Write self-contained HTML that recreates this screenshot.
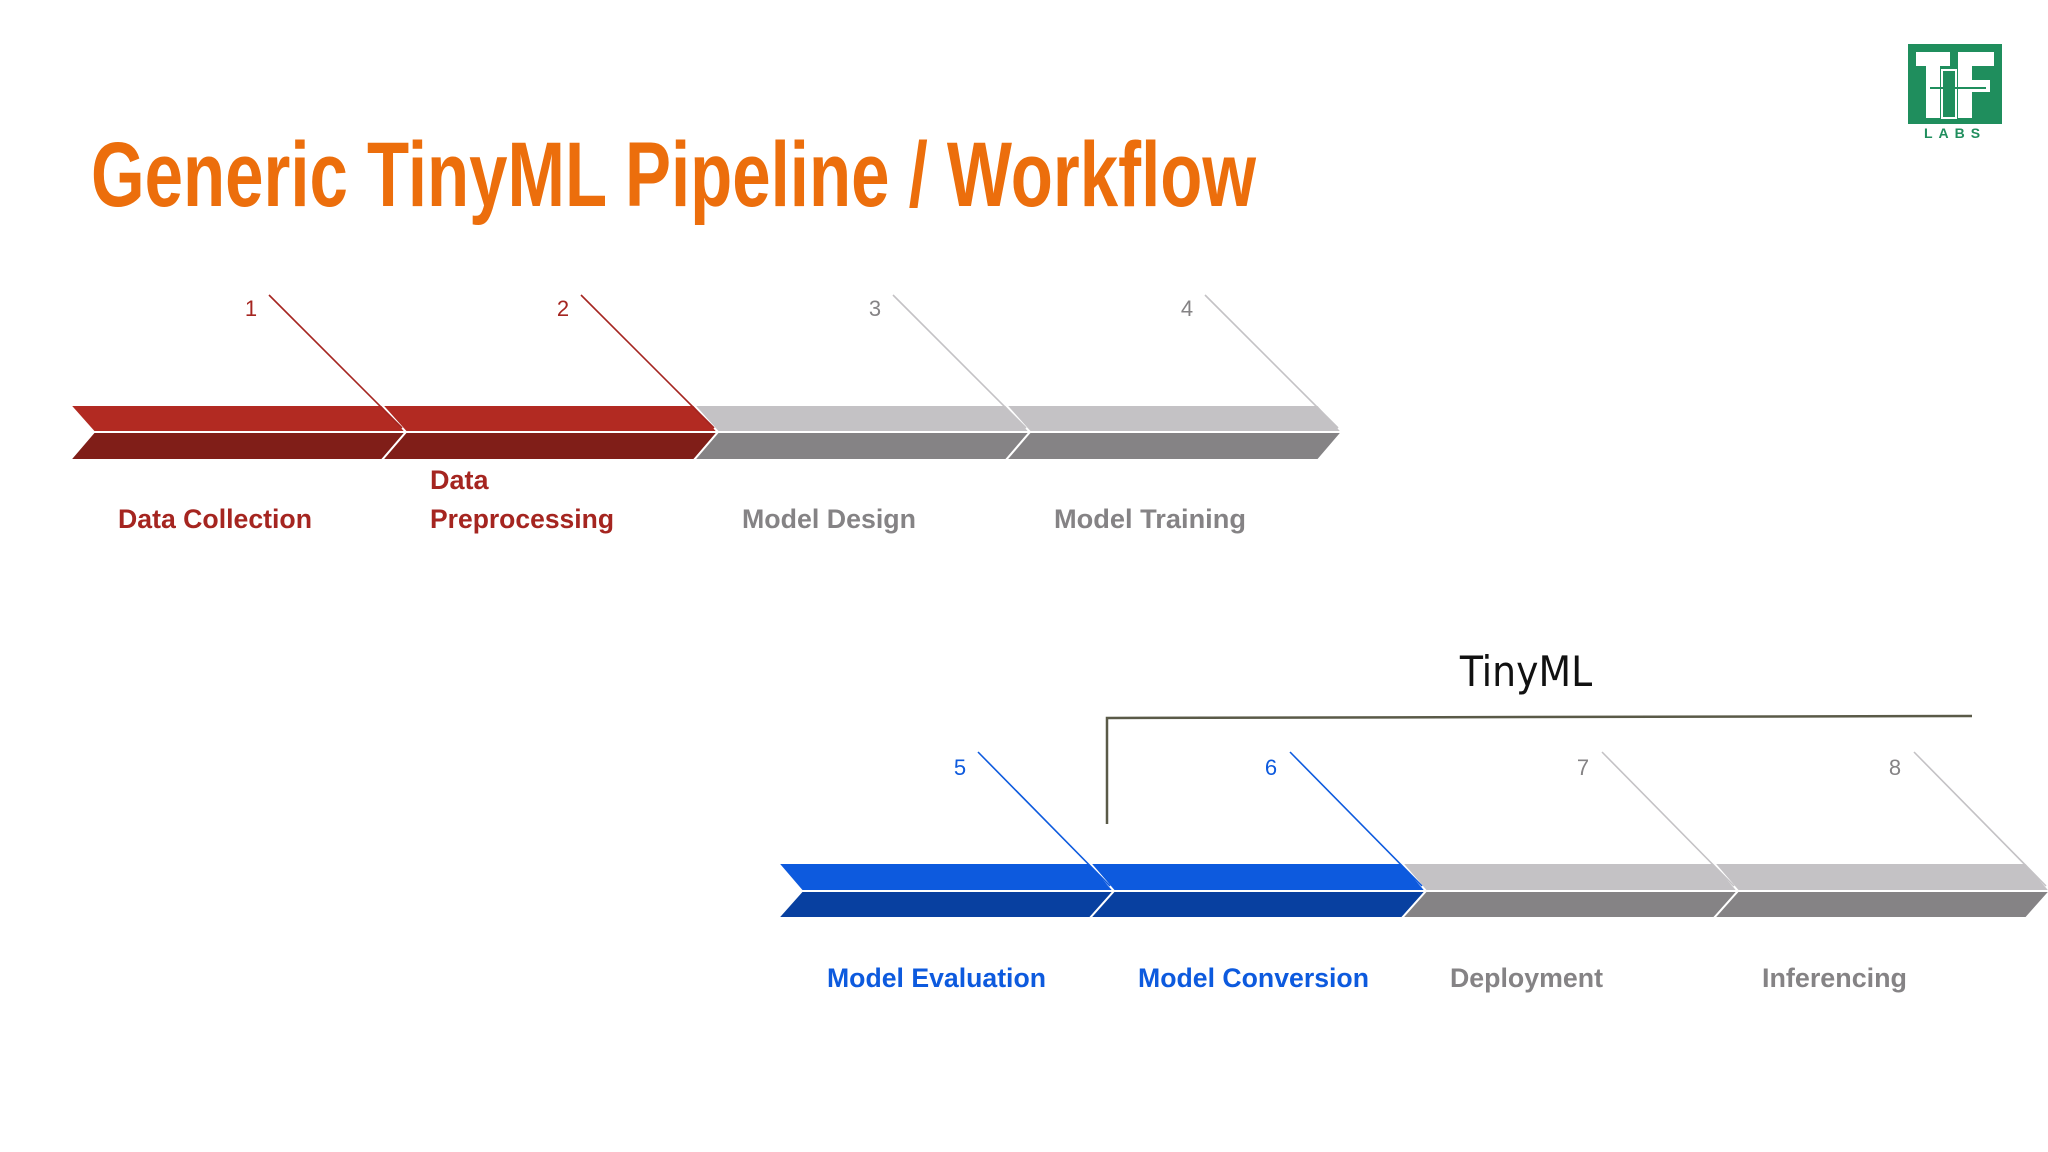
<!DOCTYPE html>
<html><head><meta charset="utf-8"><style>
html,body{margin:0;padding:0;background:#fff;width:2048px;height:1152px;overflow:hidden}
svg{display:block}
text{font-family:"Liberation Sans",sans-serif}
</style></head><body>
<svg width="2048" height="1152" viewBox="0 0 2048 1152" xmlns="http://www.w3.org/2000/svg">
<text x="91" y="206" font-weight="bold" font-size="92" fill="#ec6e0c" textLength="1165" lengthAdjust="spacingAndGlyphs" style="font-family:'Liberation Sans Narrow','Liberation Sans',sans-serif">Generic TinyML Pipeline / Workflow</text>

<!-- logo -->
<rect x="1908" y="44" width="94" height="80" fill="#1f8e5d"/>
<rect x="1916" y="52" width="34" height="14" fill="#fff"/>
<rect x="1926" y="52" width="14" height="66" fill="#fff"/>
<rect x="1958" y="52" width="36" height="14" fill="#fff"/>
<rect x="1958" y="52" width="14" height="66" fill="#fff"/>
<rect x="1958" y="80" width="32" height="12" fill="#fff"/>
<rect x="1942" y="70" width="14" height="48" fill="none" stroke="#fff" stroke-width="2"/>
<line x1="1930" y1="88" x2="1986" y2="88" stroke="#1f8e5d" stroke-width="2"/>
<text x="1955" y="138" text-anchor="middle" font-size="14" font-weight="bold" fill="#1f8e5d" letter-spacing="6">LABS</text>

<!-- top row -->
<g stroke="#fff" stroke-width="2">
<polygon points="70,405 382,405 406,432 94,432" fill="#b22a22"/>
<polygon points="94,432 406,432 382,460 70,460" fill="#801e18"/>
<polygon points="382,405 694,405 718,432 406,432" fill="#b22a22"/>
<polygon points="406,432 718,432 694,460 382,460" fill="#801e18"/>
<polygon points="694,405 1006,405 1030,432 718,432" fill="#c4c2c5"/>
<polygon points="718,432 1030,432 1006,460 694,460" fill="#858385"/>
<polygon points="1006,405 1318,405 1342,432 1030,432" fill="#c4c2c5"/>
<polygon points="1030,432 1342,432 1318,460 1006,460" fill="#858385"/>
</g>
<g stroke-width="1.6">
<line x1="269" y1="295" x2="402" y2="428" stroke="#a52520"/>
<line x1="581" y1="295" x2="714" y2="428" stroke="#a52520"/>
<line x1="893" y1="295" x2="1026" y2="428" stroke="#c4c2c5"/>
<line x1="1205" y1="295" x2="1338" y2="428" stroke="#c4c2c5"/>
</g>
<g font-size="22" text-anchor="middle">
<text x="251" y="316" fill="#a52520">1</text>
<text x="563" y="316" fill="#a52520">2</text>
<text x="875" y="316" fill="#858385">3</text>
<text x="1187" y="316" fill="#858385">4</text>
</g>
<g font-size="27" font-weight="bold">
<text x="118" y="528" fill="#a52520" textLength="194" lengthAdjust="spacingAndGlyphs">Data Collection</text>
<text x="430" y="489" fill="#a52520">Data</text>
<text x="430" y="528" fill="#a52520" textLength="184" lengthAdjust="spacingAndGlyphs">Preprocessing</text>
<text x="742" y="528" fill="#858385" textLength="174" lengthAdjust="spacingAndGlyphs">Model Design</text>
<text x="1054" y="528" fill="#858385" textLength="192" lengthAdjust="spacingAndGlyphs">Model Training</text>
</g>

<!-- bracket -->
<text x="1526" y="686" text-anchor="middle" font-size="42" fill="#111" style="font-family:'DejaVu Sans Condensed','Liberation Sans',sans-serif">TinyML</text>
<polyline points="1107,824 1107,718 1972,716" fill="none" stroke="#5a5a48" stroke-width="2.5"/>

<!-- bottom row -->
<g stroke="#fff" stroke-width="2">
<polygon points="778,863 1090,863 1114,891 802,891" fill="#0d5ade"/>
<polygon points="802,891 1114,891 1090,918 778,918" fill="#0840a0"/>
<polygon points="1090,863 1402,863 1426,891 1114,891" fill="#0d5ade"/>
<polygon points="1114,891 1426,891 1402,918 1090,918" fill="#0840a0"/>
<polygon points="1402,863 1714,863 1738,891 1426,891" fill="#c4c2c5"/>
<polygon points="1426,891 1738,891 1714,918 1402,918" fill="#858385"/>
<polygon points="1714,863 2026,863 2050,891 1738,891" fill="#c4c2c5"/>
<polygon points="1738,891 2050,891 2026,918 1714,918" fill="#858385"/>
</g>
<g stroke-width="1.6">
<line x1="978" y1="752" x2="1110" y2="886" stroke="#0d5ade"/>
<line x1="1290" y1="752" x2="1422" y2="886" stroke="#0d5ade"/>
<line x1="1602" y1="752" x2="1734" y2="886" stroke="#c4c2c5"/>
<line x1="1914" y1="752" x2="2046" y2="886" stroke="#c4c2c5"/>
</g>
<g font-size="22" text-anchor="middle">
<text x="960" y="775" fill="#0d5ade">5</text>
<text x="1271" y="775" fill="#0d5ade">6</text>
<text x="1583" y="775" fill="#858385">7</text>
<text x="1895" y="775" fill="#858385">8</text>
</g>
<g font-size="27" font-weight="bold">
<text x="827" y="987" fill="#0d5ade" textLength="219" lengthAdjust="spacingAndGlyphs">Model Evaluation</text>
<text x="1138" y="987" fill="#0d5ade" textLength="231" lengthAdjust="spacingAndGlyphs">Model Conversion</text>
<text x="1450" y="987" fill="#858385" textLength="153" lengthAdjust="spacingAndGlyphs">Deployment</text>
<text x="1762" y="987" fill="#858385" textLength="145" lengthAdjust="spacingAndGlyphs">Inferencing</text>
</g>
</svg>
</body></html>
